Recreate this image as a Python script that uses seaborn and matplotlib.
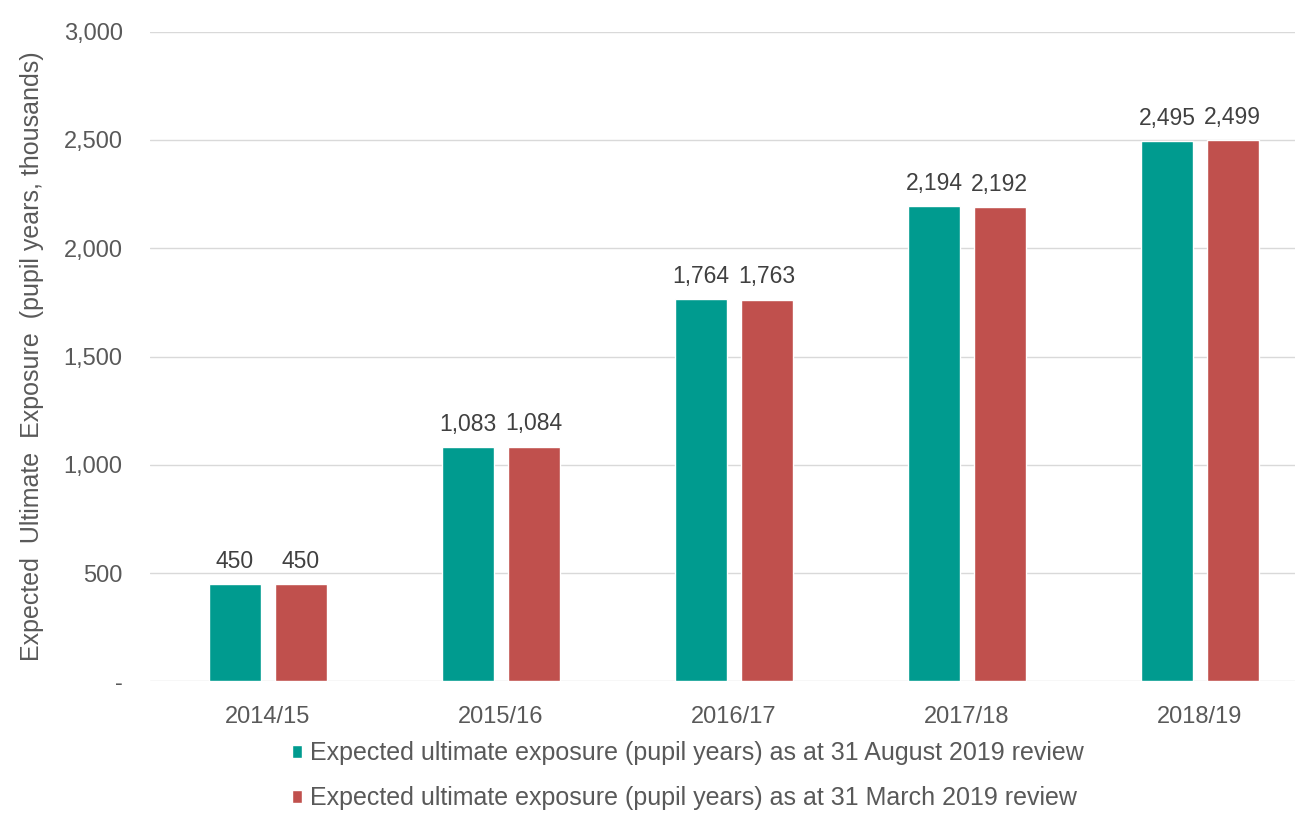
import pandas as pd
import matplotlib.pyplot as plt
import seaborn as sns
from matplotlib.ticker import FuncFormatter

# datos
years = ['2014/15', '2015/16', '2016/17', '2017/18', '2018/19']
aug_2019 = [450, 1083, 1764, 2194, 2495]
mar_2019 = [450, 1084, 1763, 2192, 2499]
series_names = ['Expected ultimate exposure (pupil years) as at 31 August 2019 review',
                'Expected ultimate exposure (pupil years) as at 31 March 2019 review']
colors = ['#009B8F', '#C0504D']

df = pd.DataFrame({'Year': years * 2,
                   'Value': aug_2019 + mar_2019,
                   'Series': [series_names[0]] * 5 + [series_names[1]] * 5})

sns.set_style('white')
plt.rcParams['font.family'] = ['Liberation Sans', 'DejaVu Sans']
grey = '#595959'

fig = plt.figure(figsize=(13.08, 8.13), dpi=100)
ax = fig.add_axes([0.115, 0.162, 0.875, 0.799])

sns.barplot(data=df, x='Year', y='Value', hue='Series', palette=colors,
            saturation=1, width=0.566, gap=0.212, ax=ax, legend=True)

for cont in ax.containers:
    ax.bar_label(cont, labels=[f'{v:,.0f}' for v in cont.datavalues],
                 padding=8, fontsize=16.5, color='#404040')

ax.set_ylim(0, 3000)
ax.set_xlim(-0.504, 4.408)
ax.set_yticks(range(0, 3001, 500))
ax.yaxis.set_major_formatter(FuncFormatter(lambda v, p: '-' if v == 0 else f'{v:,.0f}'))
ax.grid(axis='y', color='#D9D9D9', linewidth=1)
ax.set_axisbelow(True)
sns.despine(ax=ax, left=True, bottom=True, top=True, right=True)
ax.tick_params(axis='both', labelsize=17, colors=grey, length=0)
ax.tick_params(axis='y', pad=20)
ax.tick_params(axis='x', pad=18)
ax.set_xlabel('')
ax.set_ylabel('Expected  Ultimate  Exposure  (pupil years, thousands)', fontsize=18, color=grey, labelpad=14)

leg = ax.legend(loc='upper left', bbox_to_anchor=(0.104, -0.058), frameon=False,
                fontsize=18, handlelength=0.42, handleheight=0.42, handletextpad=0.3,
                labelspacing=0.82, labelcolor=grey)

plt.savefig('out.png', dpi=100)
